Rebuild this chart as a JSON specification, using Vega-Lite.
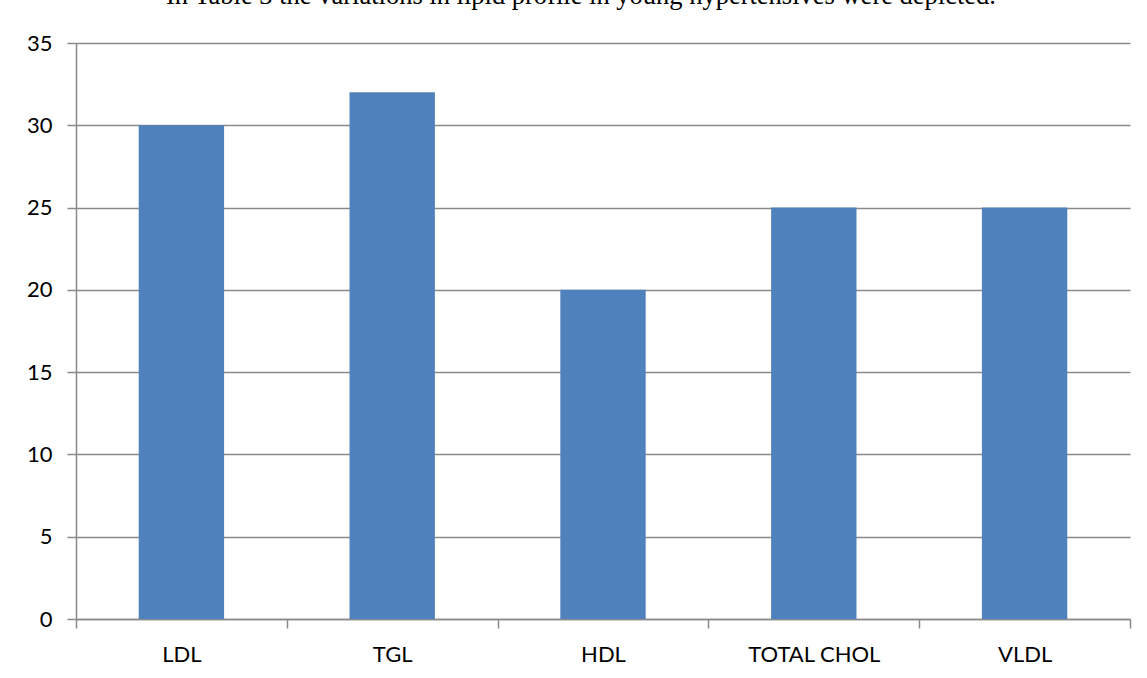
{
  "$schema": "https://vega.github.io/schema/vega-lite/v6.json",
  "width": 1054,
  "height": 576,
  "autosize": {"type": "none"},
  "padding": {"left": 76, "top": 43, "right": 17, "bottom": 59},
  "background": "white",
  "title": {
    "text": "In Table 3 the variations in lipid profile in young hypertensives were depicted.",
    "font": "Liberation Serif",
    "fontSize": 26.5,
    "fontWeight": "normal",
    "color": "black",
    "anchor": "start",
    "frame": "group",
    "dx": 90,
    "dy": 16,
    "offset": 18,
    "baseline": "alphabetic"
  },
  "data": {
    "values": [
      {"lipid": "LDL", "value": 30},
      {"lipid": "TGL", "value": 32},
      {"lipid": "HDL", "value": 20},
      {"lipid": "TOTAL CHOL", "value": 25},
      {"lipid": "VLDL", "value": 25}
    ]
  },
  "mark": {"type": "bar", "color": "#4F81BD", "width": {"band": 0.405}},
  "encoding": {
    "x": {
      "field": "lipid",
      "type": "nominal",
      "sort": null,
      "scale": {"paddingInner": 0, "paddingOuter": 0},
      "axis": {
        "title": null,
        "labelAngle": 0,
        "tickBand": "extent",
        "tickSize": 9,
        "tickWidth": 1.5,
        "domainWidth": 1.5,
        "domainColor": "#8a8a8a",
        "tickColor": "#8a8a8a",
        "labelFont": "Lato",
        "labelFontSize": 22,
        "labelColor": "black",
        "labelPadding": 16
      }
    },
    "y": {
      "field": "value",
      "type": "quantitative",
      "scale": {"domain": [0, 35], "nice": false},
      "axis": {
        "title": null,
        "values": [0, 5, 10, 15, 20, 25, 30, 35],
        "tickSize": 9,
        "tickWidth": 1.5,
        "domainWidth": 1.5,
        "gridWidth": 1.5,
        "domainColor": "#8a8a8a",
        "tickColor": "#8a8a8a",
        "gridColor": "#8a8a8a",
        "gridOpacity": 1,
        "labelFont": "Lato",
        "labelFontSize": 22,
        "labelColor": "black",
        "labelPadding": 15
      }
    }
  },
  "config": {"view": {"stroke": null}}
}
